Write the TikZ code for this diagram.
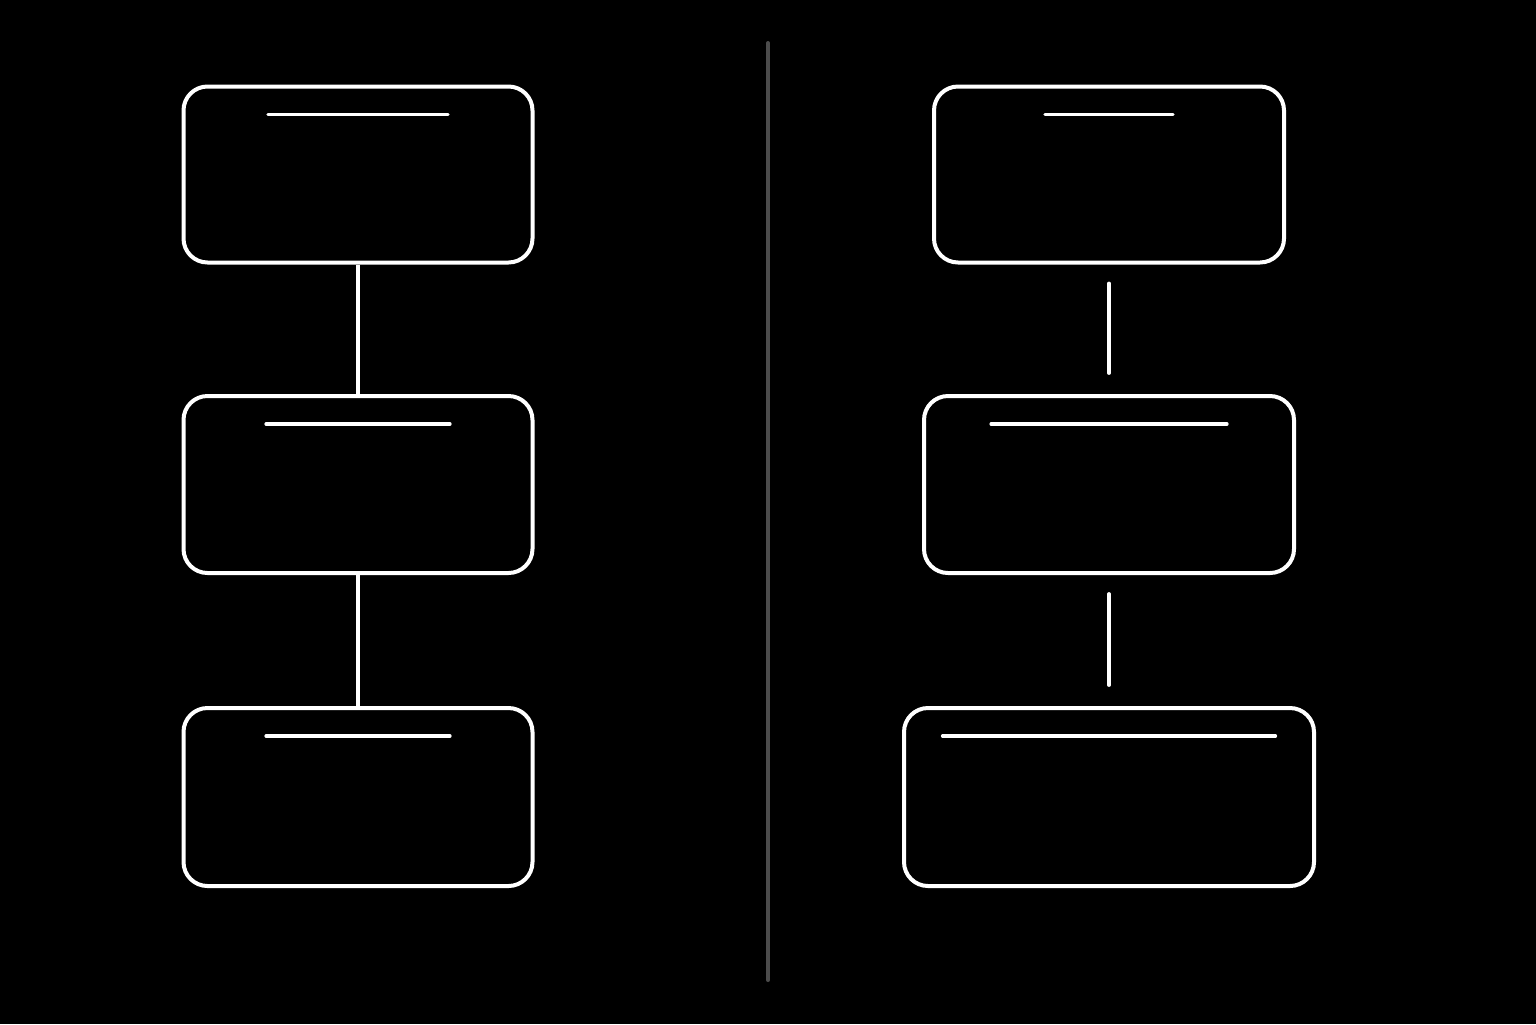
\documentclass[tikz,border=0pt]{standalone}
\usetikzlibrary{calc}
\begin{document}
\begin{tikzpicture}[x=0.5pt,y=-0.5pt,
  card/.style={draw=white,line width=2pt,rounded corners=12pt,fill=black,inner sep=0pt,minimum height=88pt},
  titlebar/.style={draw=white,line width=1.6pt,line cap=round},
  link/.style={draw=white,line width=1.7pt},
  gaplink/.style={draw=white,line width=1.9pt,line cap=round,shorten <=9.5pt,shorten >=10.5pt},
  divider/.style={draw=gray!60!black,line width=2pt,line cap=round}]
\fill[black] (0,0) rectangle (1536,1024);
\useasboundingbox (0,0) rectangle (1536,1024);
% left column
\node[card,minimum width=174.5pt] (l1) at (358,174.5) {};
\node[card,minimum width=174.5pt,minimum height=88.5pt] (l2) at (358,484.5) {};
\node[card,minimum width=174.5pt,minimum height=89pt] (l3) at (358,797) {};
\draw[titlebar] ($(l1.north)+(-90,30)$) -- ($(l1.north)+(90,30)$);
\draw[titlebar] ($(l2.north)+(-92,30)$) -- ($(l2.north)+(92,30)$);
\draw[titlebar] ($(l3.north)+(-92,30)$) -- ($(l3.north)+(92,30)$);
\draw[link] (l1.south) -- (l2.north);
\draw[link] (l2.south) -- (l3.north);
% divider
\coordinate (dtop) at (768,43);
\coordinate (dbot) at (768,980);
\draw[divider] (dtop) -- (dbot);
% right column
\node[card,minimum width=175pt] (r1) at (1109,174.5) {};
\node[card,minimum width=185pt,minimum height=88.5pt] (r2) at (1109,484.5) {};
\node[card,minimum width=205pt,minimum height=89pt] (r3) at (1109,797) {};
\draw[titlebar] ($(r1.north)+(-64,30)$) -- ($(r1.north)+(64,30)$);
\draw[titlebar] ($(r2.north)+(-118,30)$) -- ($(r2.north)+(118,30)$);
\draw[titlebar] ($(r3.north)+(-166.5,30)$) -- ($(r3.north)+(166.5,30)$);
\draw[gaplink] (r1.south) -- (r2.north);
\draw[gaplink] (r2.south) -- (r3.north);
\end{tikzpicture}
\end{document}
